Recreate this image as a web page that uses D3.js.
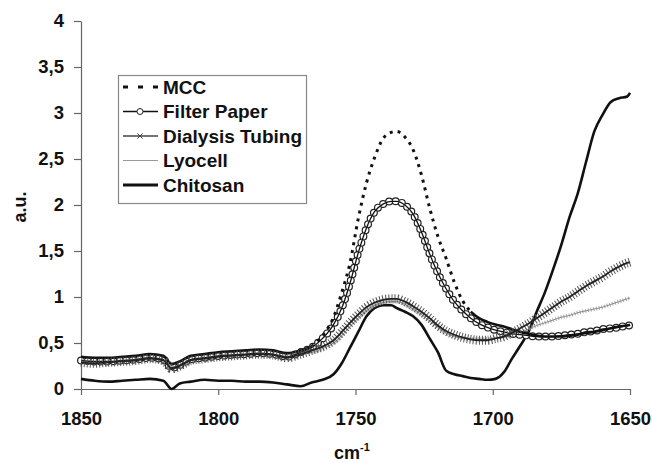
<!DOCTYPE html>
<html>
<head>
<meta charset="utf-8">
<script src="https://cdn.jsdelivr.net/npm/d3@7"></script>
<style>
  body { margin: 0; background: #fff; }
  text { font-family: Arial, "Liberation Sans", sans-serif; }
</style>
</head>
<body>
<svg id="chart" width="652" height="463"></svg>
<script>
// wavenumber grid (cm-1) shared by all series
const wavenumbers = [1850, 1845, 1840, 1835, 1830, 1825, 1820, 1817, 1814, 1810, 1805, 1800, 1795, 1790,
  1785, 1780, 1775, 1770, 1766, 1762, 1758, 1755, 1752, 1749, 1746, 1743, 1740, 1737, 1735, 1732,
  1729, 1726, 1723, 1720, 1717, 1714, 1711, 1708, 1705, 1702, 1699, 1696, 1693, 1690, 1687, 1684,
  1681, 1678, 1675, 1672, 1669, 1666, 1663, 1660, 1657, 1654, 1651, 1650];

const mcc = [0.35, 0.34, 0.34, 0.35, 0.36, 0.38, 0.36, 0.27, 0.30, 0.36, 0.38, 0.40, 0.41, 0.42,
  0.43, 0.42, 0.39, 0.42, 0.46, 0.58, 0.78, 1.05, 1.37, 1.85, 2.24, 2.52, 2.72, 2.79, 2.80, 2.74,
  2.60, 2.33, 1.97, 1.66, 1.42, 1.16, 0.96, 0.84, 0.77, 0.73, 0.70, 0.68, 0.65, 0.62, 0.60, 0.58,
  0.57, 0.57, 0.57, 0.58, 0.59, 0.61, 0.62, 0.64, 0.66, 0.68, 0.69, 0.70];

const filterPaper = [0.31, 0.30, 0.30, 0.31, 0.32, 0.34, 0.32, 0.23, 0.26, 0.32, 0.34, 0.36, 0.37, 0.38,
  0.39, 0.38, 0.35, 0.40, 0.45, 0.55, 0.70, 0.88, 1.15, 1.48, 1.75, 1.93, 2.01, 2.04, 2.04, 2.00,
  1.90, 1.71, 1.47, 1.26, 1.09, 0.95, 0.85, 0.77, 0.71, 0.67, 0.64, 0.62, 0.60, 0.59, 0.58, 0.57,
  0.57, 0.57, 0.58, 0.59, 0.60, 0.62, 0.63, 0.65, 0.66, 0.67, 0.69, 0.69];

const dialysisTubing = [0.29, 0.28, 0.29, 0.30, 0.31, 0.33, 0.31, 0.22, 0.25, 0.31, 0.33, 0.35, 0.36, 0.37,
  0.38, 0.37, 0.34, 0.38, 0.42, 0.46, 0.53, 0.62, 0.72, 0.81, 0.89, 0.94, 0.97, 0.98, 0.98, 0.95,
  0.90, 0.84, 0.77, 0.69, 0.63, 0.59, 0.56, 0.54, 0.53, 0.53, 0.55, 0.57, 0.61, 0.66, 0.71, 0.77,
  0.83, 0.89, 0.95, 1.00, 1.06, 1.12, 1.17, 1.22, 1.28, 1.33, 1.37, 1.38];

const lyocell = [0.33, 0.32, 0.32, 0.33, 0.34, 0.36, 0.34, 0.25, 0.28, 0.34, 0.36, 0.38, 0.39, 0.40,
  0.41, 0.40, 0.37, 0.40, 0.40, 0.44, 0.50, 0.58, 0.68, 0.77, 0.85, 0.91, 0.94, 0.95, 0.95, 0.92,
  0.87, 0.81, 0.74, 0.67, 0.61, 0.57, 0.55, 0.54, 0.54, 0.54, 0.55, 0.56, 0.58, 0.61, 0.65, 0.69,
  0.72, 0.75, 0.78, 0.80, 0.83, 0.85, 0.87, 0.89, 0.92, 0.95, 0.98, 0.99];

const chitosan = [0.11, 0.09, 0.08, 0.09, 0.10, 0.11, 0.09, 0.00, 0.06, 0.08, 0.10, 0.09, 0.09, 0.08,
  0.08, 0.07, 0.05, 0.03, 0.07, 0.10, 0.16, 0.28, 0.45, 0.62, 0.79, 0.88, 0.91, 0.91, 0.88, 0.84,
  0.79, 0.70, 0.55, 0.40, 0.20, 0.16, 0.14, 0.12, 0.11, 0.10, 0.11, 0.18, 0.33, 0.47, 0.62, 0.84,
  1.05, 1.30, 1.57, 1.87, 2.13, 2.47, 2.80, 2.98, 3.12, 3.16, 3.18, 3.22];

const seriesNames = ["MCC", "Filter Paper", "Dialysis Tubing", "Lyocell", "Chitosan"];
const xTicks = [1850, 1800, 1750, 1700, 1650];
const yTicks = [0, 0.5, 1, 1.5, 2, 2.5, 3, 3.5, 4];
const yTickLabels = ["0", "0,5", "1", "1,5", "2", "2,5", "3", "3,5", "4"];

const svg = d3.select("#chart");

const x = d3.scaleLinear().domain([1850, 1650]).range([81, 630]);
const y = d3.scaleLinear().domain([0, 4]).range([389, 21]);

function pts(vals) {
  return wavenumbers.map((w, i) => ({ wn: w, v: vals[i] }));
}

const line = d3.line()
  .x(d => x(d.wn))
  .y(d => y(d.v))
  .curve(d3.curveMonotoneX);

// axes
const gy = svg.append("g")
  .attr("transform", "translate(81,0)")
  .call(d3.axisLeft(y).tickValues(yTicks)
    .tickFormat((d, i) => yTickLabels[i])
    .tickSize(7).tickSizeOuter(0).tickPadding(10));

const gx = svg.append("g")
  .attr("transform", "translate(0,389)")
  .call(d3.axisBottom(x).tickValues(xTicks)
    .tickFormat(d3.format("d"))
    .tickSize(6).tickSizeOuter(0).tickPadding(17));

[gx, gy].forEach(g => {
  g.select(".domain").attr("stroke", "#666").attr("stroke-width", 1.2);
  g.selectAll(".tick line").attr("stroke", "#666").attr("stroke-width", 1.2);
  g.selectAll(".tick text")
    .attr("fill", "#111")
    .style("font-size", "18.5px")
    .style("font-weight", "bold");
});

svg.append("text")
  .attr("transform", "translate(26,207) rotate(-90)")
  .attr("text-anchor", "middle")
  .style("font-size", "18px")
  .style("font-weight", "bold")
  .attr("fill", "#111")
  .text("a.u.");

const xt = svg.append("text")
  .attr("x", 352).attr("y", 459)
  .attr("text-anchor", "middle")
  .style("font-size", "18px")
  .style("font-weight", "bold")
  .attr("fill", "#111");
xt.append("tspan").text("cm");
xt.append("tspan").attr("dy", -8).style("font-size", "11px").text("-1");

const plot = svg.append("g");

// Chitosan
plot.append("path")
  .attr("d", line(pts(chitosan)))
  .attr("fill", "none").attr("stroke", "#111").attr("stroke-width", 2.6);

// Lyocell: thin grey line with fine marks
const lyD = line(pts(lyocell));
plot.append("path").attr("d", lyD)
  .attr("fill", "none").attr("stroke", "#aaa").attr("stroke-width", 4)
  .attr("stroke-dasharray", "1,1.8");
plot.append("path").attr("d", lyD)
  .attr("fill", "none").attr("stroke", "#888").attr("stroke-width", 1);

// Filter Paper: open circles along a thin line
const fpD = line(pts(filterPaper));
plot.append("path").attr("d", fpD)
  .attr("fill", "none").attr("stroke", "#222").attr("stroke-width", 8)
  .attr("stroke-linecap", "round").attr("stroke-dasharray", "0,6.5");
plot.append("path").attr("d", fpD)
  .attr("fill", "none").attr("stroke", "#fff").attr("stroke-width", 5.6)
  .attr("stroke-linecap", "round").attr("stroke-dasharray", "0,6.5");
plot.append("path").attr("d", fpD)
  .attr("fill", "none").attr("stroke", "#111").attr("stroke-width", 1.3);

// MCC: dashed in the steep band region, solid where flat
const mccPts = pts(mcc);
const steep = mccPts.filter(d => d.wn <= 1766 && d.wn >= 1708);
const leftFlat = mccPts.filter(d => d.wn >= 1766);
const rightFlat = mccPts.filter(d => d.wn <= 1708);
[leftFlat, rightFlat].forEach(p => {
  plot.append("path").attr("d", line(p))
    .attr("fill", "none").attr("stroke", "#111").attr("stroke-width", 2.6);
});
plot.append("path").attr("d", line(steep))
  .attr("fill", "none").attr("stroke", "#111").attr("stroke-width", 3)
  .attr("stroke-dasharray", "3,5");

// Dialysis Tubing: hatched crosses along a line
const dtD = line(pts(dialysisTubing));
plot.append("path").attr("d", dtD)
  .attr("fill", "none").attr("stroke", "#555").attr("stroke-width", 9)
  .attr("stroke-dasharray", "1,2");
plot.append("path").attr("d", dtD)
  .attr("fill", "none").attr("stroke", "#222").attr("stroke-width", 1.8);

// legend
const legend = svg.append("g");
legend.append("rect")
  .attr("x", 118.5).attr("y", 75.5).attr("width", 188).attr("height", 128)
  .attr("fill", "#fff").attr("stroke", "#888").attr("stroke-width", 1.2);

const rowY = d3.scalePoint().domain(seriesNames).range([87, 185]);
seriesNames.forEach(name => {
  const yy = rowY(name);
  const g = legend.append("g");
  if (name === "MCC") {
    g.append("line").attr("x1", 123).attr("x2", 158).attr("y1", yy).attr("y2", yy)
      .attr("stroke", "#111").attr("stroke-width", 3).attr("stroke-dasharray", "5,10");
  } else if (name === "Filter Paper") {
    g.append("line").attr("x1", 123).attr("x2", 158).attr("y1", yy).attr("y2", yy)
      .attr("stroke", "#111").attr("stroke-width", 1.3);
    g.append("circle").attr("cx", 140).attr("cy", yy).attr("r", 3)
      .attr("fill", "#fff").attr("stroke", "#222").attr("stroke-width", 1);
  } else if (name === "Dialysis Tubing") {
    g.append("line").attr("x1", 123).attr("x2", 158).attr("y1", yy).attr("y2", yy)
      .attr("stroke", "#444").attr("stroke-width", 1.3);
    g.append("path").attr("d", d3.symbol(d3.symbolTimes, 20)())
      .attr("transform", `translate(140,${yy})`)
      .attr("fill", "none").attr("stroke", "#444").attr("stroke-width", 1);
  } else if (name === "Lyocell") {
    g.append("line").attr("x1", 123).attr("x2", 158).attr("y1", yy).attr("y2", yy)
      .attr("stroke", "#999").attr("stroke-width", 1.2);
  } else {
    g.append("line").attr("x1", 123).attr("x2", 158).attr("y1", yy).attr("y2", yy)
      .attr("stroke", "#111").attr("stroke-width", 3);
  }
  g.append("text")
    .attr("x", 163).attr("y", yy).attr("dy", "0.36em")
    .style("font-size", "19px").style("font-weight", "bold")
    .attr("fill", "#111")
    .text(name);
});
</script>
</body>
</html>
